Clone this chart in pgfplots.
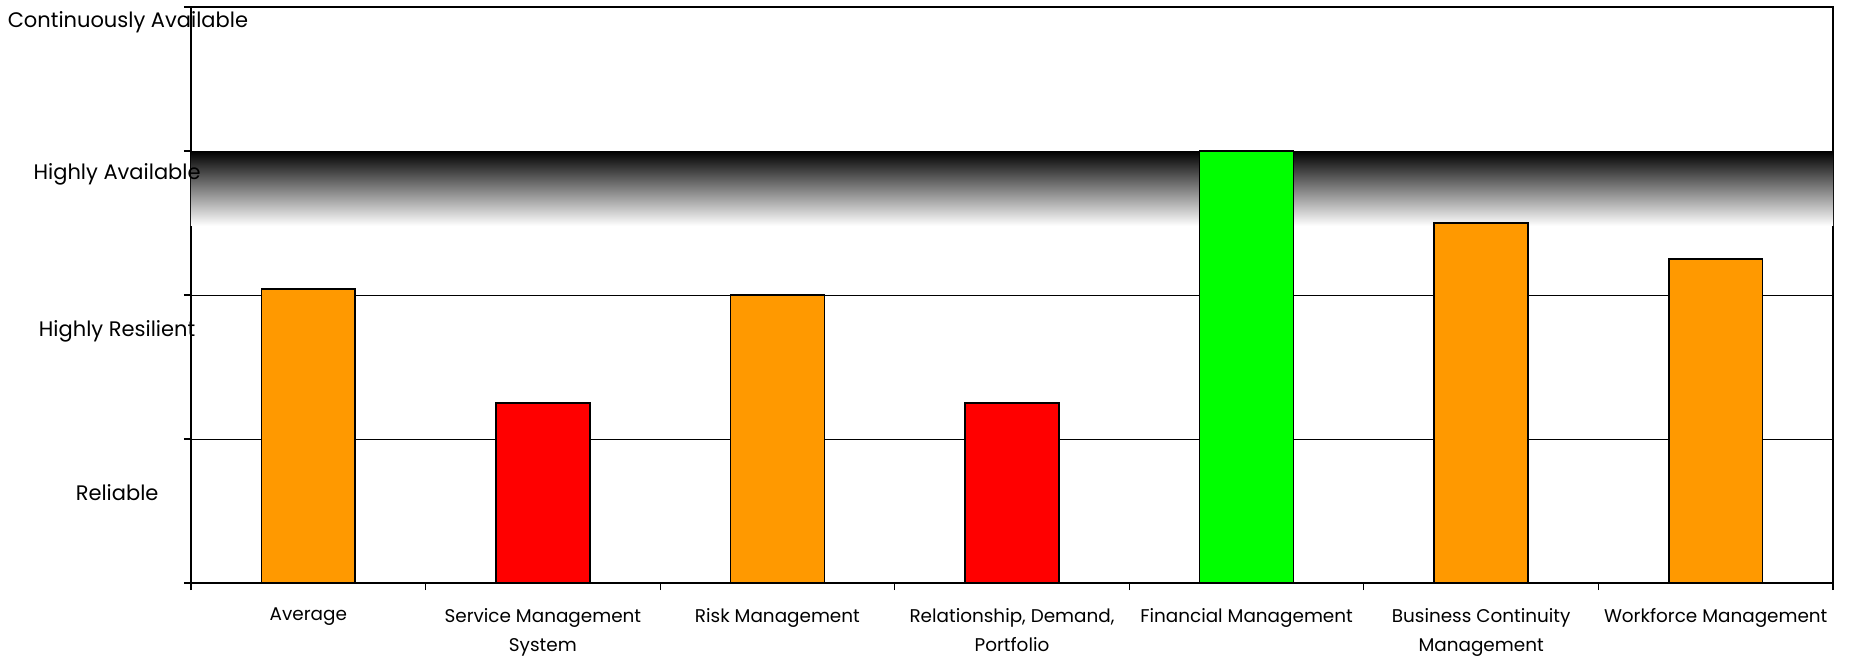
\documentclass[border=0pt]{standalone}
\usepackage{fontspec}
\setmainfont{Poppins}
\usepackage{pgfplots}
\pgfplotsset{compat=1.18}
\definecolor{barorange}{RGB}{255,153,0}
\definecolor{barred}{RGB}{255,0,0}
\definecolor{bargreen}{RGB}{0,255,0}
\begin{document}
\begin{tikzpicture}
\begin{axis}[
 at={(95.5pt,36pt)}, anchor=south west,
 width=821pt, height=288pt, scale only axis,
 xmin=-0.5, xmax=6.5, ymin=0, ymax=4,
 clip=false,
 axis line style={line width=0.7pt},
 xtick pos=bottom, ytick pos=left,
 xtick={-0.5,0.5,...,6.5}, xticklabels={},
 extra x ticks={0,1,2,3,4,5,6},
 extra x tick labels={Average, Service Management\\System, Risk Management, {Relationship, Demand,\\Portfolio}, Financial Management, Business Continuity\\Management, Workforce Management},
 extra x tick style={major tick length=0pt},
 ytick={0,1,2,3,4}, yticklabels={},
 tick align=outside, major tick length=3.5pt,
 tick style={black, line width=0.6pt},
 ymajorgrids, grid style={black, line width=0.5pt},
 xticklabel style={align=center, font=\fontsize{9.2}{14.5}\selectfont, yshift=-9pt},
]
\addplot[draw=none, top color=black, middle color=black!30, bottom color=white, forget plot] coordinates {(-0.5,2.48) (6.5,2.48) (6.5,3) (-0.5,3)} -- cycle;
\addplot[ybar, bar width=0.4, bar shift=0pt, fill=barorange, draw=black, line width=0.8pt] coordinates {(0,2.04) (2,2.0) (5,2.5) (6,2.25)};
\addplot[ybar, bar width=0.4, bar shift=0pt, fill=barred, draw=black, line width=0.8pt] coordinates {(1,1.25) (3,1.25)};
\addplot[ybar, bar width=0.4, bar shift=0pt, fill=bargreen, draw=black, line width=0.8pt] coordinates {(4,3.0)};
\node[anchor=base, font=\fontsize{10.5}{13}\selectfont] at (axis cs:-0.769,3.855) {Continuously Available};
\node[anchor=base, font=\fontsize{10.5}{13}\selectfont] at (axis cs:-0.815,2.80) {Highly Available};
\node[anchor=base, font=\fontsize{10.5}{13}\selectfont] at (axis cs:-0.815,1.715) {Highly Resilient};
\node[anchor=base, font=\fontsize{10.5}{13}\selectfont] at (axis cs:-0.815,0.576) {Reliable};
\end{axis}
\pgfresetboundingbox
\path[use as bounding box] (0,0) rectangle (926pt,327.5pt);
\end{tikzpicture}
\end{document}
